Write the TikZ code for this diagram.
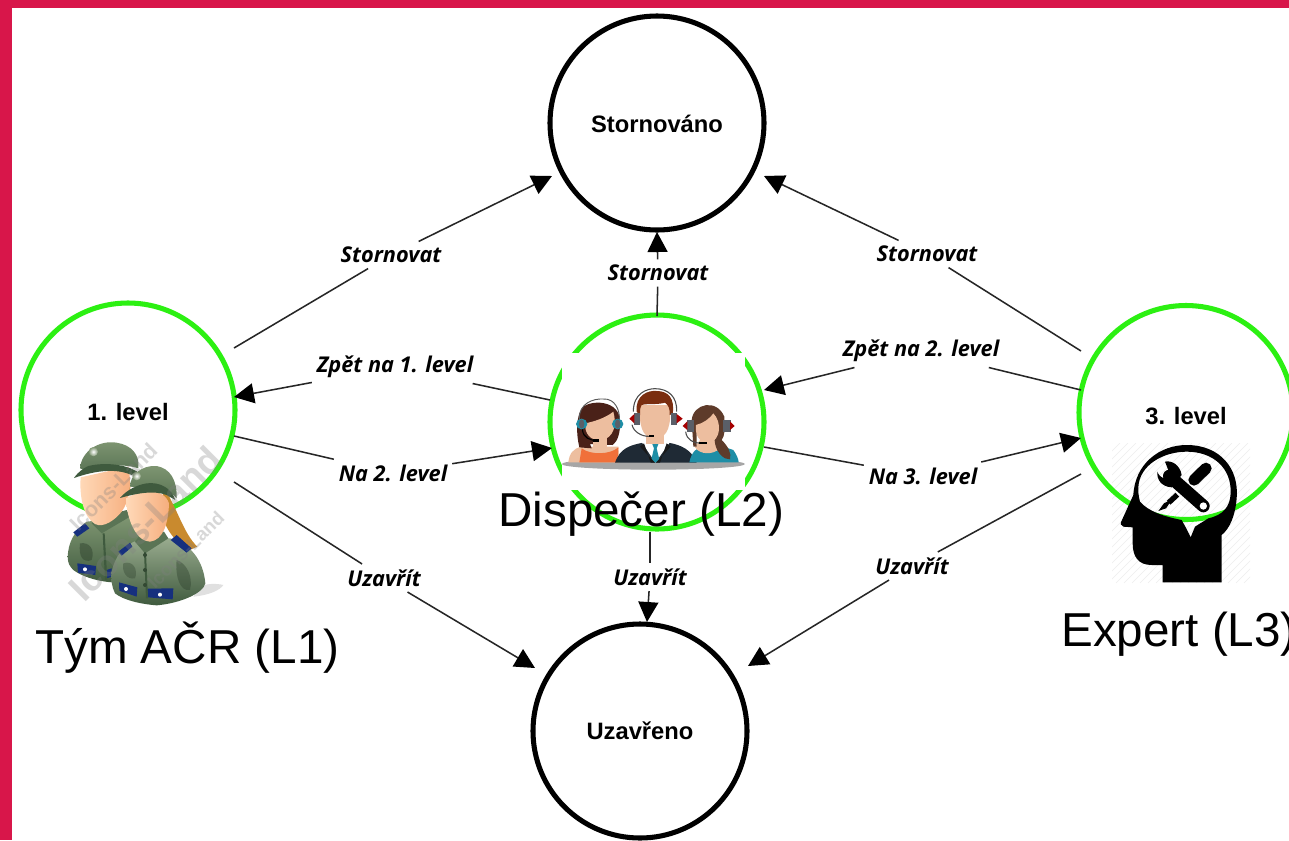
\documentclass[tikz,border=0pt]{standalone}
\usepackage{fontspec}
\setmainfont{Liberation Sans}
\newfontfamily\labfont{Open Sans}
\usetikzlibrary{arrows.meta}
\definecolor{crim}{HTML}{D8164A}
\definecolor{lime}{HTML}{2CF012}
\definecolor{olive1}{HTML}{7F9672}
\definecolor{olive2}{HTML}{5A7455}
\definecolor{olive3}{HTML}{3F5A3E}
\definecolor{skin1}{HTML}{FFD9B8}
\definecolor{skin2}{HTML}{F6AE7E}
\definecolor{navy}{HTML}{16307E}
\definecolor{blond}{HTML}{C98A2E}
\definecolor{fskin}{HTML}{EDBE9F}
\definecolor{suit}{HTML}{1F2A35}
\definecolor{teal}{HTML}{1E8EA6}
\definecolor{earg}{HTML}{5A5F68}
\definecolor{orangetop}{HTML}{F0703A}
\definecolor{manhair}{HTML}{7A2E10}
\definecolor{hairl}{HTML}{4A2118}
\definecolor{hairr}{HTML}{5E3B2A}
\tikzset{
  state/.style={circle,draw,line width=3.8pt,minimum size=160.5pt,inner sep=0pt,font=\fontsize{17.8}{20}\selectfont\bfseries},
  blackstate/.style={state,draw=black},
  greenstate/.style={state,draw=lime},
  edgelab/.style={font=\labfont\fontsize{16.3}{19}\selectfont\bfseries\itshape,inner xsep=3.5pt,inner ysep=4pt},
  link/.style={line width=1.15pt,black!85},
  tolink/.style={link,-{Triangle[length=15pt,width=15pt,color=black]}},
  bigtext/.style={font=\fontsize{35.7}{40}\selectfont,inner sep=0pt},
  water/.style={text=gray,opacity=.3,inner sep=0pt},
}
\begin{document}
\begin{tikzpicture}[x=0.75pt,y=-0.75pt]
\useasboundingbox (0,0) rectangle (1289,840);
\clip (0,0) rectangle (1289,840);
\fill[white] (0,0) rectangle (1289,840);
\fill[crim] (0,0) rectangle (1289,8);
\fill[crim] (0,0) rectangle (12,840);

% hatch behind head icon
\begin{scope}
\clip (1112,443) rectangle (1250,583);
\foreach \k in {0,8,...,300}{\draw[black!7,line width=.4pt] (1112+\k-140,583) -- (1112+\k,443);}
\end{scope}

% states
\node[blackstate] (cancel) at (657,123) {\raisebox{-.7pt}[\height][\depth]{Stornováno}};
\node[greenstate] (lone) at (128,410) {\raisebox{-1.2pt}[\height][\depth]{1. level}};
\node[greenstate] (ltwo) at (657,422) {};
\node[greenstate] (lthree) at (1186,412.5) {\raisebox{-2.6pt}[\height][\depth]{3. level}};
\node[blackstate] (closed) at (640,731) {Uzavřeno};

% free ends
\coordinate (a1) at (234,348);  \coordinate (a2) at (552,176);
\coordinate (b1) at (657,316);  \coordinate (b2) at (657,232);
\coordinate (c1) at (1081,351); \coordinate (c2) at (764,176);
\coordinate (d1) at (550,400);  \coordinate (d2) at (234,397);
\coordinate (e1) at (234,436);  \coordinate (e2) at (552,448);
\coordinate (f1) at (1081,390); \coordinate (f2) at (764,390);
\coordinate (g1) at (764,447);  \coordinate (g2) at (1081,438);
\coordinate (h1) at (234,482);  \coordinate (h2) at (535,668);
\coordinate (i1) at (650,532);  \coordinate (i2) at (647,622);
\coordinate (j1) at (1081,474); \coordinate (j2) at (748,666);

% labels
\node[edgelab] (la) at (391,255) {Stornovat};
\node[edgelab] (lb) at (658,273) {Stornovat};
\node[edgelab] (lc) at (927,254) {Stornovat};
\node[edgelab] (ld) at (395,367) {Zpět na 1. level};
\node[edgelab] (le) at (393,473) {Na 2. level};
\node[edgelab] (lf) at (921,351) {Zpět na 2. level};
\node[edgelab] (lg) at (923,476) {Na 3. level};
\node[edgelab] (lh) at (384,578) {Uzavřít};
\node[edgelab] (li) at (650,577) {Uzavřít};
\node[edgelab] (lj) at (912,566) {Uzavřít};

% connectors
\draw[link] (a1) -- (la); \draw[tolink] (la) -- (a2);
\draw[link] (b1) -- (lb); \draw[tolink] (lb) -- (b2);
\draw[link] (c1) -- (lc); \draw[tolink] (lc) -- (c2);
\draw[link] (d1) -- (ld); \draw[tolink] (ld) -- (d2);
\draw[link] (e1) -- (le); \draw[tolink] (le) -- (e2);
\draw[link] (f1) -- (lf); \draw[tolink] (lf) -- (f2);
\draw[link] (g1) -- (lg); \draw[tolink] (lg) -- (g2);
\draw[link] (h1) -- (lh); \draw[tolink] (lh) -- (h2);
\draw[link] (i1) -- (li); \draw[tolink] (li) -- (i2);
\draw[link] (j1) -- (lj); \draw[tolink] (lj) -- (j2);

% ---------- soldiers (coordinates of a 3x crop at 20,400)
\begin{scope}[shift={(20,400)},x=0.25pt,y=-0.25pt]
\fill[black!12] (520,590) .. controls (570,585) and (600,570) .. (610,555) .. controls (590,550) and (560,550) .. (540,560) -- cycle;
% back body
\shade[top color=olive1,bottom color=olive3] (143,470) .. controls (145,430) and (160,395) .. (200,365) -- (330,350) -- (400,420) -- (340,545) .. controls (280,555) and (200,540) .. (160,510) .. controls (150,500) and (143,490) .. cycle;
\fill[olive3!70!black,opacity=.45] (180,430) .. controls (210,425) and (225,450) .. (215,480) .. controls (190,490) and (175,470) .. cycle;
\fill[navy] (160,397) -- (195,370) -- (208,385) -- (172,410) -- cycle;
\fill[navy] (172,490) -- (228,498) -- (226,525) -- (174,518) -- cycle;
\fill[navy] (260,510) -- (275,505) -- (275,530) -- (260,535) -- cycle;
\fill[white] (195,508) circle (6);
\fill[olive2] (215,370) -- (245,400) -- (330,350) -- (320,330) -- (230,355) -- cycle;
\fill[olive3] (248,400) -- (255,540) -- (262,540) -- (254,400) -- cycle;
% hair of the back soldier
\fill[blond] (300,205) .. controls (325,220) and (335,250) .. (330,270) -- (300,260) -- cycle;
% back face
\shade[left color=skin1,right color=skin2] (182,232) .. controls (178,290) and (190,350) .. (225,372) .. controls (250,385) and (285,360) .. (305,335) .. controls (330,300) and (335,250) .. (325,200) -- cycle;
% back cap
\shade[top color=olive1,bottom color=olive2] (180,205) .. controls (185,150) and (240,120) .. (290,128) .. controls (335,135) and (360,165) .. (355,205) .. controls (310,190) and (250,195) .. (205,215) -- cycle;
\fill[olive3] (162,234) .. controls (175,215) and (190,205) .. (205,198) .. controls (260,185) and (320,195) .. (352,215) -- (335,225) .. controls (290,205) and (230,210) .. cycle;
\shade[inner color=white,outer color=olive1] (220,155) circle (14);
% front hair
\fill[blond] (430,260) .. controls (470,320) and (490,400) .. (532,440) -- (505,452) .. controls (460,420) and (430,380) .. (425,330) -- cycle;
% front body
\shade[top color=olive1!80!white,bottom color=olive3] (275,515) .. controls (285,470) and (310,435) .. (355,420) -- (450,415) .. controls (510,430) and (550,480) .. (556,550) .. controls (550,580) and (480,610) .. (410,616) .. controls (360,612) and (310,600) .. (285,580) .. controls (275,560) and (273,540) .. cycle;
\fill[olive3!70!black,opacity=.4] (470,480) .. controls (500,490) and (520,530) .. (510,570) .. controls (480,575) and (465,530) .. cycle;
\fill[olive3!70!black,opacity=.35] (310,490) .. controls (340,480) and (355,510) .. (345,535) .. controls (320,540) and (305,515) .. cycle;
\fill[navy] (295,455) -- (330,428) -- (337,440) -- (305,467) -- cycle;
\fill[navy] (452,420) -- (470,405) -- (515,445) -- (500,458) -- cycle;
\fill[navy] (297,547) -- (352,562) -- (350,590) -- (298,572) -- cycle;
\fill[navy] (382,566) -- (460,565) -- (458,598) -- (384,592) -- cycle;
\fill[white] (318,567) circle (6); \fill[white] (420,584) circle (6);
\fill[olive2] (345,425) -- (375,460) -- (445,415) -- (432,395) -- (360,405) -- cycle;
\fill[olive3] (372,456) -- (378,595) -- (384,595) -- (378,456) -- cycle;
\foreach \yy in {465,510,555}{\fill[olive3!80!black] (375,\yy) circle (6);}
% front face
\shade[left color=skin1,right color=skin2] (318,295) .. controls (320,360) and (350,425) .. (390,425) .. controls (430,420) and (445,370) .. (447,310) .. controls (430,260) and (360,270) .. cycle;
% front cap
\shade[top color=olive1,bottom color=olive2] (330,260) .. controls (330,225) and (365,195) .. (410,198) .. controls (450,205) and (472,240) .. (470,295) .. controls (450,270) and (410,255) .. (370,262) -- cycle;
\fill[olive3] (300,294) .. controls (320,270) and (350,255) .. (380,250) .. controls (420,245) and (455,265) .. (466,300) -- (440,285) .. controls (400,270) and (350,280) .. cycle;
\shade[inner color=white,outer color=olive1] (350,228) circle (13);
% watermark
\node[water,rotate=45,font=\fontsize{28}{30}\selectfont\bfseries] (wm1) at (375,370) {Icons-Land};
\node[water,rotate=45,font=\fontsize{16}{18}\selectfont\bfseries] (wm2) at (280,260) {Icons-Land};
\node[water,rotate=45,font=\fontsize{14}{16}\selectfont\bfseries] (wm3) at (497,450) {Icons-Land};
\end{scope}

% ---------- dispatcher team (coordinates of a 3x crop at 540,340)
\fill[white] (562,353) rectangle (745,490);
\begin{scope}[shift={(540,340)},x=0.25pt,y=-0.25pt]
\fill[black!35] (340,372) ellipse (275 and 17);
% left woman
\fill[fskin] (85,367) .. controls (88,340) and (100,325) .. (125,320) -- (235,320) -- (240,367) -- cycle;
\fill[orangetop] (118,367) -- (125,325) .. controls (150,345) and (210,345) .. (235,322) -- (232,367) -- cycle;
\fill[hairl] (120,215) .. controls (125,180) and (235,170) .. (240,240) .. controls (242,280) and (232,305) .. (218,315) -- (150,312) -- (155,325) -- (118,322) .. controls (108,280) and (110,240) .. cycle;
\fill[fskin] (136,250) .. controls (160,245) and (195,235) .. (220,215) .. controls (230,250) and (225,295) .. (180,302) .. controls (150,300) and (133,280) .. cycle;
\fill[fskin] (160,290) rectangle (200,325);
\draw[black!65,line width=.7pt] (118,240) .. controls (115,190) and (160,175) .. (190,177) .. controls (225,175) and (240,210) .. (238,240);
\fill[teal] (125,252) ellipse (17 and 16); \fill[teal] (233,252) ellipse (17 and 16);
\fill[earg] (125,252) ellipse (8 and 14); \fill[earg] (233,252) ellipse (8 and 14);
\draw[black,line width=.8pt] (127,268) .. controls (130,295) and (150,300) .. (170,302);
\fill[black] (160,298) rectangle (178,305);
% centre man
\fill[suit] (225,368) .. controls (240,325) and (270,315) .. (310,308) -- (385,308) .. controls (425,315) and (455,330) .. (470,368) -- cycle;
\fill[white] (305,306) -- (390,306) -- (346,368) -- cycle;
\fill[teal] (336,310) -- (356,310) -- (350,325) -- (358,358) -- (346,368) -- (334,358) -- (342,325) -- cycle;
\fill[black!90] (312,310) -- (300,320) -- (345,368) -- (332,368) -- cycle;
\fill[black!90] (380,310) -- (392,320) -- (348,368) -- (360,368) -- cycle;
\fill[fskin] (318,270) rectangle (372,312);
\fill[fskin] (301,195) .. controls (295,250) and (305,295) .. (345,297) .. controls (385,295) and (395,250) .. (389,195) -- cycle;
\fill[manhair] (290,215) .. controls (285,165) and (325,150) .. (350,153) .. controls (385,153) and (405,175) .. (398,222) -- (389,225) .. controls (390,205) and (385,195) .. (375,188) .. controls (350,195) and (320,190) .. (305,195) .. controls (299,205) and (300,215) .. (300,225) -- cycle;
\draw[black!70,line width=.8pt] (280,215) .. controls (280,160) and (320,146) .. (345,146) .. controls (385,146) and (412,170) .. (410,215);
\fill[earg] (283,218) rectangle (300,254);
\fill[earg] (392,218) rectangle (410,254);
\fill[red!65!black] (268,236) -- (283,222) -- (283,250) -- cycle;
\fill[red!65!black] (428,236) -- (410,222) -- (410,250) -- cycle;
\draw[black!70,line width=.8pt] (276,254) .. controls (280,275) and (305,290) .. (328,289);
\fill[black] (326,285) rectangle (342,292);
% right woman
\fill[teal] (448,367) .. controls (455,335) and (470,322) .. (490,320) -- (545,318) -- (580,330) .. controls (590,345) and (595,355) .. (596,367) -- cycle;
\fill[fskin] (465,322) .. controls (480,345) and (520,345) .. (540,325) -- (530,300) -- (480,300) -- cycle;
\fill[hairr] (455,240) .. controls (460,190) and (530,175) .. (553,230) .. controls (555,270) and (555,285) .. (545,300) .. controls (565,320) and (575,340) .. (570,358) -- (555,355) .. controls (530,340) and (520,310) .. (525,280) -- (470,280) -- (470,320) -- (460,320) -- cycle;
\fill[fskin] (468,255) .. controls (490,250) and (510,235) .. (520,220) .. controls (545,245) and (545,300) .. (505,310) .. controls (475,305) and (465,285) .. cycle;
\fill[earg] (440,240) rectangle (462,275);
\fill[earg] (549,240) rectangle (572,275);
\fill[red!65!black] (428,258) -- (442,244) -- (442,270) -- cycle;
\fill[red!65!black] (584,258) -- (570,244) -- (570,270) -- cycle;
\draw[black!70,line width=.8pt] (437,275) .. controls (440,300) and (460,310) .. (490,310);
\fill[black] (478,306) rectangle (500,313);
\end{scope}

% ---------- expert icon (coordinates of a 3x crop at 1080,400)
\begin{scope}[shift={(1080,400)},x=0.25pt,y=-0.25pt]
\fill[black,even odd rule]
 (248,547) -- (248,495) -- (215,495) .. controls (175,495) and (158,470) .. (158,430) -- (158,382) -- (130,380) .. controls (122,378) and (120,370) .. (125,362) -- (160,285) .. controls (165,190) and (240,135) .. (320,135) .. controls (420,135) and (478,205) .. (470,295) .. controls (466,345) and (450,385) .. (425,405) -- (425,547) -- cycle
 (175,262) .. controls (178,195) and (250,155) .. (320,155) .. controls (400,155) and (455,205) .. (452,280) .. controls (450,320) and (430,345) .. (385,355) -- (345,380) -- (332,412) -- (316,380) -- (305,360) .. controls (255,350) and (205,335) .. (180,305) .. controls (176,290) and (174,275) .. cycle;
\draw[black,line width=9.5pt,line cap=round] (268,228) -- (370,318);
\fill[black] (232,215) .. controls (240,235) and (255,240) .. (262,225) .. controls (270,215) and (262,205) .. (255,185) .. controls (275,180) and (300,195) .. (305,225) -- (275,262) .. controls (245,260) and (230,240) .. cycle;
\fill[white] (370,318) circle (11);
\draw[black,line width=8.5pt,line cap=round] (378,205) -- (342,240);
\draw[black,line width=4pt] (292,284) -- (266,308);
\fill[black] (278,296) -- (252,310) -- (235,333) -- (258,325) -- cycle;
\end{scope}

% big names
\node[bigtext,anchor=west] (tname1) at (35,648) {Tým AČR (L1)};
\node[bigtext,anchor=west] (tname2) at (498,514) {Dispečer (L2)};
\node[bigtext,anchor=west] (tname3) at (1061,634) {Expert (L3)};
\end{tikzpicture}
\end{document}
